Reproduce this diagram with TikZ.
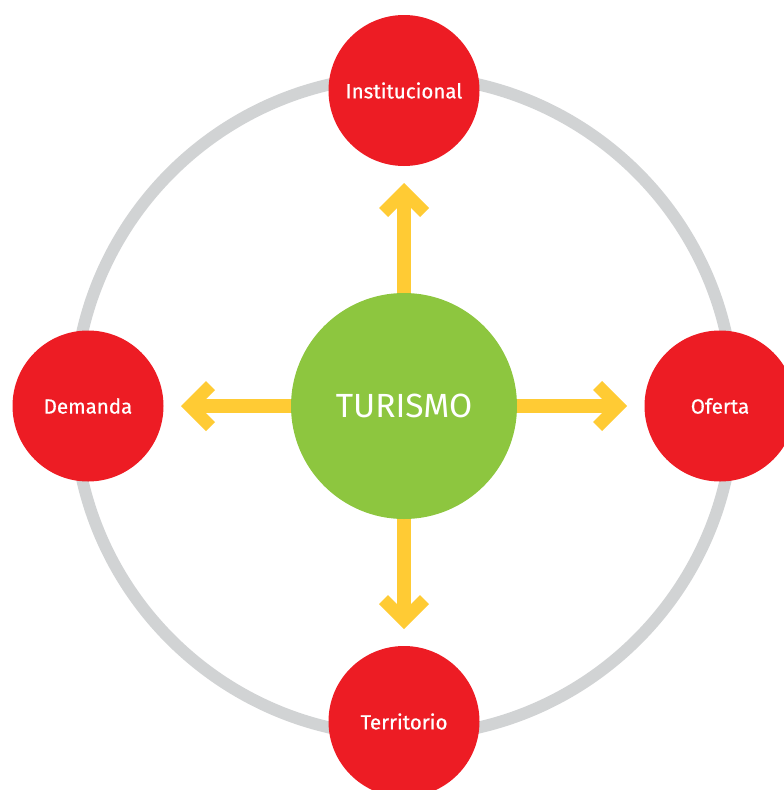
\documentclass[tikz,border=0pt]{standalone}
\usepackage{fontspec}
\setmainfont{Fira Sans}
\newfontfamily\labelfont[FakeBold=0.6]{Fira Sans}
\definecolor{ringgray}{HTML}{D1D3D4}
\definecolor{nodered}{HTML}{ED1C24}
\definecolor{centergreen}{HTML}{8DC63F}
\definecolor{arrowyellow}{HTML}{FFCB34}
\begin{document}
\begin{tikzpicture}[x=1pt,y=-1pt,
  redball/.style={circle, fill=nodered, minimum size=151pt, inner sep=0pt, text=white, font=\labelfont\fontsize{20.5}{24}\selectfont},
  greenball/.style={circle, fill=centergreen, minimum size=226pt, inner sep=0pt, text=white, font=\fontsize{33.5}{40}\selectfont},
  shaft/.style={draw=arrowyellow, line width=14pt, shorten >=24pt},
  headfill/.style={fill=arrowyellow}
]
\useasboundingbox (0,0) rectangle (784,790);
\coordinate (ctr) at (404,406);
% gray ring
\draw[ringgray, line width=12pt] (ctr) circle[radius=330];
% arrow tips
\coordinate (tipU) at (404,183);
\coordinate (tipD) at (404,629);
\coordinate (tipL) at (181,406);
\coordinate (tipR) at (627,406);
\foreach \t/\a in {tipU/90, tipD/270, tipL/180, tipR/0}{
  \draw[shaft] (ctr) -- (\t);
  \fill[headfill, shift={(\t)}, rotate=\a] (0,0) -- (-25,25) -- (-34,16) -- (-25,7) -- (-25,-7) -- (-34,-16) -- (-25,-25) -- cycle;
}
% center
\node[greenball] (tur) at (ctr) {TURISMO};
% outer nodes
\node[redball] (inst) at (404,90.5) {Institucional};
\node[redball] (dem) at (88,406) {Demanda};
\node[redball] (ofe) at (720,406) {Oferta};
\node[redball] (ter) at (404,721.5) {Territorio};
\end{tikzpicture}
\end{document}
